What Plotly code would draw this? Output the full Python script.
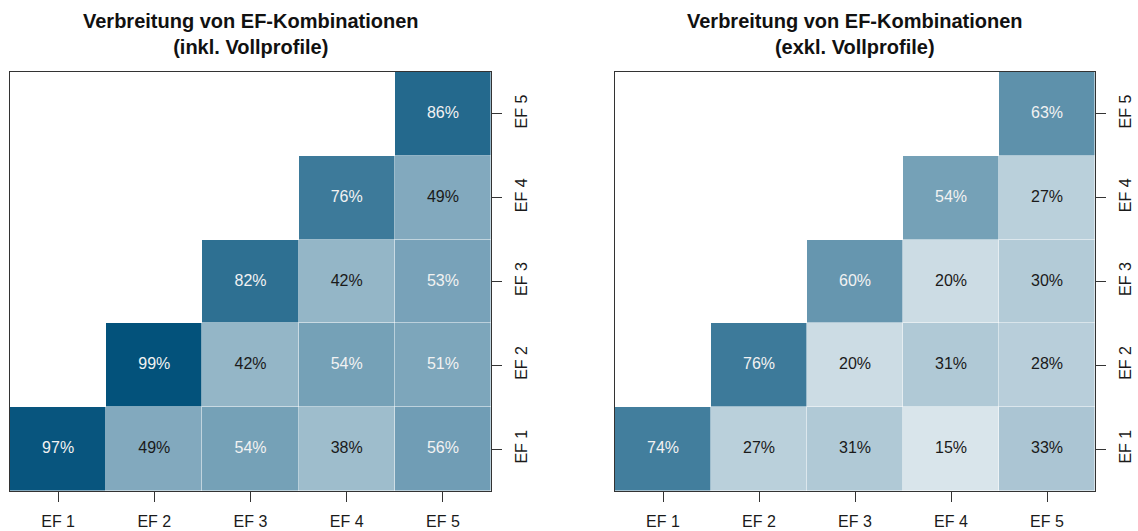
"""
Heatmaps: Verbreitung von EF-Kombinationen (inkl./exkl. Vollprofile).
"""

import plotly.graph_objects as go

# Daten
labels = ["EF 1", "EF 2", "EF 3", "EF 4", "EF 5"]

# Zeilen = y (EF 1 unten ... EF 5 oben), Spalten = x (EF 1 ... EF 5)
inkl_values = [
    [0.97, 0.49, 0.54, 0.38, 0.56],
    [None, 0.99, 0.42, 0.54, 0.51],
    [None, None, 0.82, 0.42, 0.53],
    [None, None, None, 0.76, 0.49],
    [None, None, None, None, 0.86],
]
exkl_values = [
    [0.74, 0.27, 0.31, 0.15, 0.33],
    [None, 0.76, 0.20, 0.31, 0.28],
    [None, None, 0.60, 0.20, 0.30],
    [None, None, None, 0.54, 0.27],
    [None, None, None, None, 0.63],
]

titles = [
    "Verbreitung von EF-Kombinationen<br>(inkl. Vollprofile)",
    "Verbreitung von EF-Kombinationen<br>(exkl. Vollprofile)",
]

COLORSCALE = [[0, "#ffffff"], [1, "#00507a"]]
FONT = "Liberation Sans, Arial, sans-serif"

W, H = 1138, 531


def px_x(p):
    return p / W


def px_y(p):
    return (H - p) / H


X_DOMAINS = [[px_x(10), px_x(491)], [px_x(615), px_x(1095)]]
Y_DOMAIN = [px_y(491), px_y(72)]

fig = go.Figure()

for i, (vals, title) in enumerate(zip([inkl_values, exkl_values], titles)):
    ax = "" if i == 0 else str(i + 1)
    fig.add_trace(
        go.Heatmap(
            z=vals,
            x=labels,
            y=labels,
            colorscale=COLORSCALE,
            zmin=0,
            zmax=1,
            showscale=False,
            xgap=0.5,
            ygap=0.5,
            hoverongaps=False,
            xaxis="x" + ax,
            yaxis="y" + ax,
        )
    )
    # Zellbeschriftungen: weiß bei >50%, sonst schwarz
    for dark, color in [(True, "#f2f2f2"), (False, "#1a1a1a")]:
        xs, ys, ts = [], [], []
        for r, row in enumerate(vals):
            for c, v in enumerate(row):
                if v is None or (v > 0.5) != dark:
                    continue
                xs.append(labels[c])
                ys.append(labels[r])
                ts.append(f"{round(v * 100)}%")
        fig.add_trace(
            go.Scatter(
                x=xs, y=ys, text=ts, mode="text",
                textfont=dict(color=color, size=16, family=FONT),
                showlegend=False, hoverinfo="skip",
                xaxis="x" + ax, yaxis="y" + ax,
            )
        )
    axis_common = dict(
        showline=True, linecolor="#333333", linewidth=1, mirror=True,
        ticks="outside", ticklen=10, tickcolor="#333333",
        showgrid=False, zeroline=False, fixedrange=True,
        tickfont=dict(size=16, color="#1a1a1a", family=FONT),
    )
    fig.update_layout(**{
        "xaxis" + ax: dict(
            domain=X_DOMAINS[i], anchor="y" + ax, range=[-0.5, 4.5],
            categoryorder="array", categoryarray=labels, ticklabelstandoff=6,
            **axis_common,
        ),
        "yaxis" + ax: dict(
            domain=Y_DOMAIN, anchor="x" + ax, side="right", range=[-0.5, 4.5],
            categoryorder="array", categoryarray=labels, tickangle=-90,
            ticklabelstandoff=6,
            **axis_common,
        ),
    })
    fig.add_annotation(
        text=f"<b>{title}</b>", xref="paper", yref="paper",
        x=sum(X_DOMAINS[i]) / 2, y=px_y(34), xanchor="center", yanchor="middle",
        showarrow=False, font=dict(size=20, color="#111111", family=FONT),
    )

fig.update_layout(
    width=W, height=H,
    margin=dict(l=0, r=0, t=0, b=0),
    paper_bgcolor="white", plot_bgcolor="white",
    showlegend=False,
)

# Body-Rand der Seite entfernen, damit die Figur genau das Fenster füllt
fig.write_html(
    "out.html",
    config={"displayModeBar": False},
    post_script="document.body.style.margin='0';document.body.style.overflow='hidden';",
)
